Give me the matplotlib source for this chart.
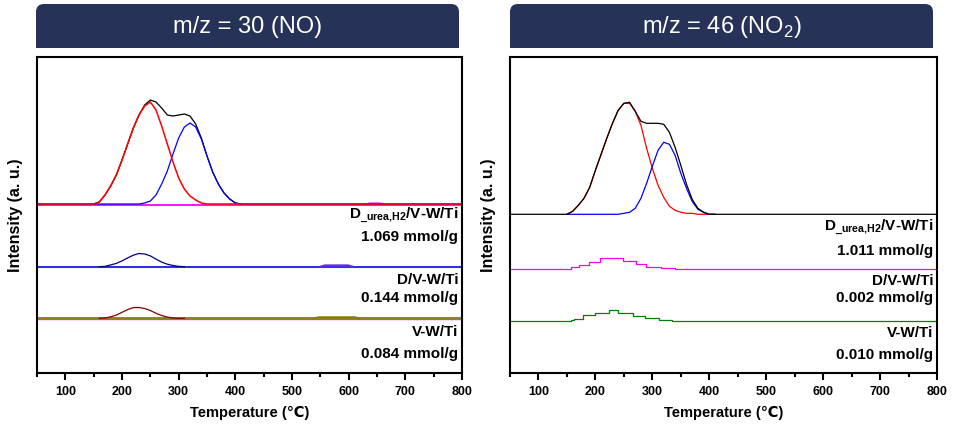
import matplotlib.pyplot as plt
from matplotlib.patches import FancyBboxPatch, Rectangle

plt.rcParams['font.family'] = ['Liberation Sans', 'DejaVu Sans']

# temperature grid of the fitted peaks (°C)
temp = [150, 160, 170, 180, 190, 200, 210, 220, 230, 240, 250, 260, 270, 280,
        290, 300, 310, 320, 330, 340, 350, 360, 370, 380, 390, 400, 410]

# m/z = 30 (NO), D_urea,H2/V-W/Ti  - measured + two fitted peaks
no_black = [0, 2, 9, 18, 29, 44, 60, 76, 89, 99, 104, 102, 96, 89,
            88, 89, 90, 88, 80, 66, 48, 32, 20, 11, 5, 1, 0]
no_red = [0, 2, 9, 18, 29, 44, 60, 76, 89, 98, 102, 94, 78, 60,
          42, 26, 15, 8, 4, 1, 0, 0, 0, 0, 0, 0, 0]
no_blue = [0, 0, 0, 0, 0, 0, 0, 0, 0, 1, 3, 9, 20, 33,
           50, 66, 77, 81, 77, 65, 48, 32, 20, 11, 5, 1, 0]

# m/z = 46 (NO2), D_urea,H2/V-W/Ti
no2_black = [0, 3, 9, 16, 27, 44, 60, 76, 91, 104, 111, 112, 103, 93,
             91, 91, 91, 90, 82, 67, 49, 30, 15, 6, 2, 0, 0]
no2_red = [0, 3, 9, 16, 27, 44, 60, 76, 91, 104, 111, 111, 103, 89,
           66, 46, 29, 17, 8, 4, 2, 1, 1, 0, 0, 0, 0]
no2_blue = [0, 0, 0, 0, 0, 0, 0, 0, 0, 0, 1, 2, 6, 16,
            31, 48, 64, 72, 70, 59, 41, 26, 13, 5, 2, 0, 0]

# small NO peaks of D/V-W/Ti and V-W/Ti
small_temp = [160, 170, 180, 190, 200, 210, 220, 230, 240, 250, 260, 270, 280, 290, 300, 310]
dv_no = [0, 0.3, 1.8, 3.3, 5.8, 8.8, 11.5, 13.2, 12.7, 10.8, 7.6, 4.6, 2.5, 1.2, 0.3, 0]
vwt_no = [0, 0.3, 1.5, 3.2, 6, 8.7, 10.7, 10.8, 9.8, 7.8, 5, 2.8, 1.2, 0.3, 0, 0]

# tiny bumps near 550-650 °C on the NO baselines
bump_temp_a = [630, 637, 655, 662]
bump_a = [0, 1, 1, 0]
bump_temp_b = [550, 558, 599, 607]
bump_b = [0, 1.3, 1.3, 0]
bump_temp_c = [540, 547, 611, 618]
bump_c = [0, 1, 1, 0]

# stepped NO2 signals (steps-post)
dv_no2_temp = [50, 158, 171, 188, 208, 249, 271, 288, 316, 340, 800]
dv_no2 = [0, 2.7, 4, 7.7, 11, 8.3, 5.3, 2.7, 1, 0, 0]
vwt_no2_temp = [50, 158, 163, 178, 199, 224, 240, 266, 287, 312, 334, 800]
vwt_no2 = [0, 1.3, 2.7, 6, 8, 11.3, 8, 5.7, 3, 1.3, 0, 0]

full = [50, 800]
zero = [0, 0]

left_labels = ['D$_\\mathregular{\\_urea{,}H2}$/V-W/Ti', '1.069 mmol/g',
               'D/V-W/Ti', '0.144 mmol/g', 'V-W/Ti', '0.084 mmol/g']
right_labels = ['D$_\\mathregular{\\_urea{,}H2}$/V-W/Ti', '1.011 mmol/g',
                'D/V-W/Ti', '0.002 mmol/g', 'V-W/Ti', '0.010 mmol/g']

W, H = 973, 440
navy = '#263257'
fig = plt.figure(figsize=(W / 100, H / 100), dpi=100)


def add(lst, off):
    return [v + off for v in lst]


def header(x0, x1, title):
    # pixel coords from top-left, drawn in inches
    box = FancyBboxPatch((x0 / 100, (H - 48) / 100), (x1 - x0) / 100, 44 / 100,
                         boxstyle='round,pad=0,rounding_size=0.08',
                         transform=fig.dpi_scale_trans, fc=navy, ec='none')
    fig.patches.append(box)
    sq = Rectangle((x0 / 100, (H - 48) / 100), (x1 - x0) / 100, 0.2,
                   transform=fig.dpi_scale_trans, fc=navy, ec='none')
    fig.patches.append(sq)
    fig.text((x0 + x1) / 2 / W, 1 - 27 / H, title, color='white', fontsize=17,
             ha='center', va='center')


def frame(ax, labels, ys):
    ax.set_xlim(50, 800)
    ax.set_ylim(0, 316)
    ax.set_xticks(range(100, 801, 100))
    ax.set_xticks(range(50, 801, 100), minor=True)
    ax.set_yticks([])
    ax.tick_params(axis='x', which='major', direction='out', length=5, width=1.5, pad=4)
    ax.tick_params(axis='x', which='minor', direction='out', length=3, width=1.5)
    for lab in ax.get_xticklabels():
        lab.set_fontweight('bold')
        lab.set_fontsize(9)
    for s in ax.spines.values():
        s.set_linewidth(1.5)
    ax.set_xlabel('Temperature (℃)', fontsize=10.5, fontweight='bold', labelpad=6)
    ax.set_ylabel('Intensity (a. u.)', fontsize=11.5, fontweight='bold', labelpad=10)
    for t, y in zip(labels, ys):
        ax.text(0.991, y, t, transform=ax.get_yaxis_transform(), ha='right',
                va='center', fontsize=11, fontweight='bold')


header(36, 459, 'm/z = 30 (NO)')
header(510, 933, 'm/z = 46 (NO$_\\mathregular{2}$)')

# left: NO
ax1 = fig.add_axes([37 / W, 67 / H, 425 / W, 316 / H])
o1, o2, o3 = 169, 106.3, 54.7
lw = 0.9
ax1.plot(full, add(zero, o1 - 0.5), color='magenta', lw=1.3)
ax1.plot(bump_temp_a, add(bump_a, o1 - 0.5), color='magenta', lw=1.5)
ax1.plot(temp, add(no_black, o1), color='black', lw=lw)
ax1.plot([50] + temp + [800], add([0] + no_blue + [0], o1), color='blue', lw=lw)
ax1.plot([50] + temp + [800], add([0] + no_red + [0], o1), color='red', lw=1.1)
ax1.plot(full, add(zero, o2), color='#3030e0', lw=1.5)
ax1.plot(bump_temp_b, add(bump_b, o2), color='#6a2be2', lw=1.5)
ax1.plot(small_temp, add(dv_no, o2), color='#000080', lw=lw)
ax1.plot(full, add(zero, o3 - 0.6), color='#d040d0', lw=1.0)
ax1.plot(full, add(zero, o3), color='#808000', lw=1.3)
ax1.plot(bump_temp_c, add(bump_c, o3), color='#808000', lw=1.5)
ax1.plot(small_temp, add(vwt_no, o3), color='#800000', lw=lw)
frame(ax1, left_labels, [158, 136, 93, 75, 41, 19])

# right: NO2
ax2 = fig.add_axes([510 / W, 67 / H, 427 / W, 316 / H])
p1, p2, p3 = 158.7, 103.7, 51.7
ax2.plot(temp, add(no2_red, p1), color='red', lw=lw)
ax2.plot(temp, add(no2_blue, p1), color='blue', lw=lw)
ax2.plot([50] + temp + [800], add([0] + no2_black + [0], p1), color='black', lw=lw)
ax2.plot(dv_no2_temp, add(dv_no2, p2), color='magenta', lw=lw, drawstyle='steps-post')
ax2.plot(vwt_no2_temp, add(vwt_no2, p3), color='green', lw=lw, drawstyle='steps-post')
frame(ax2, right_labels, [146.3, 122.3, 92.3, 74.7, 40.3, 18])

fig.savefig('out.png', dpi=100)
